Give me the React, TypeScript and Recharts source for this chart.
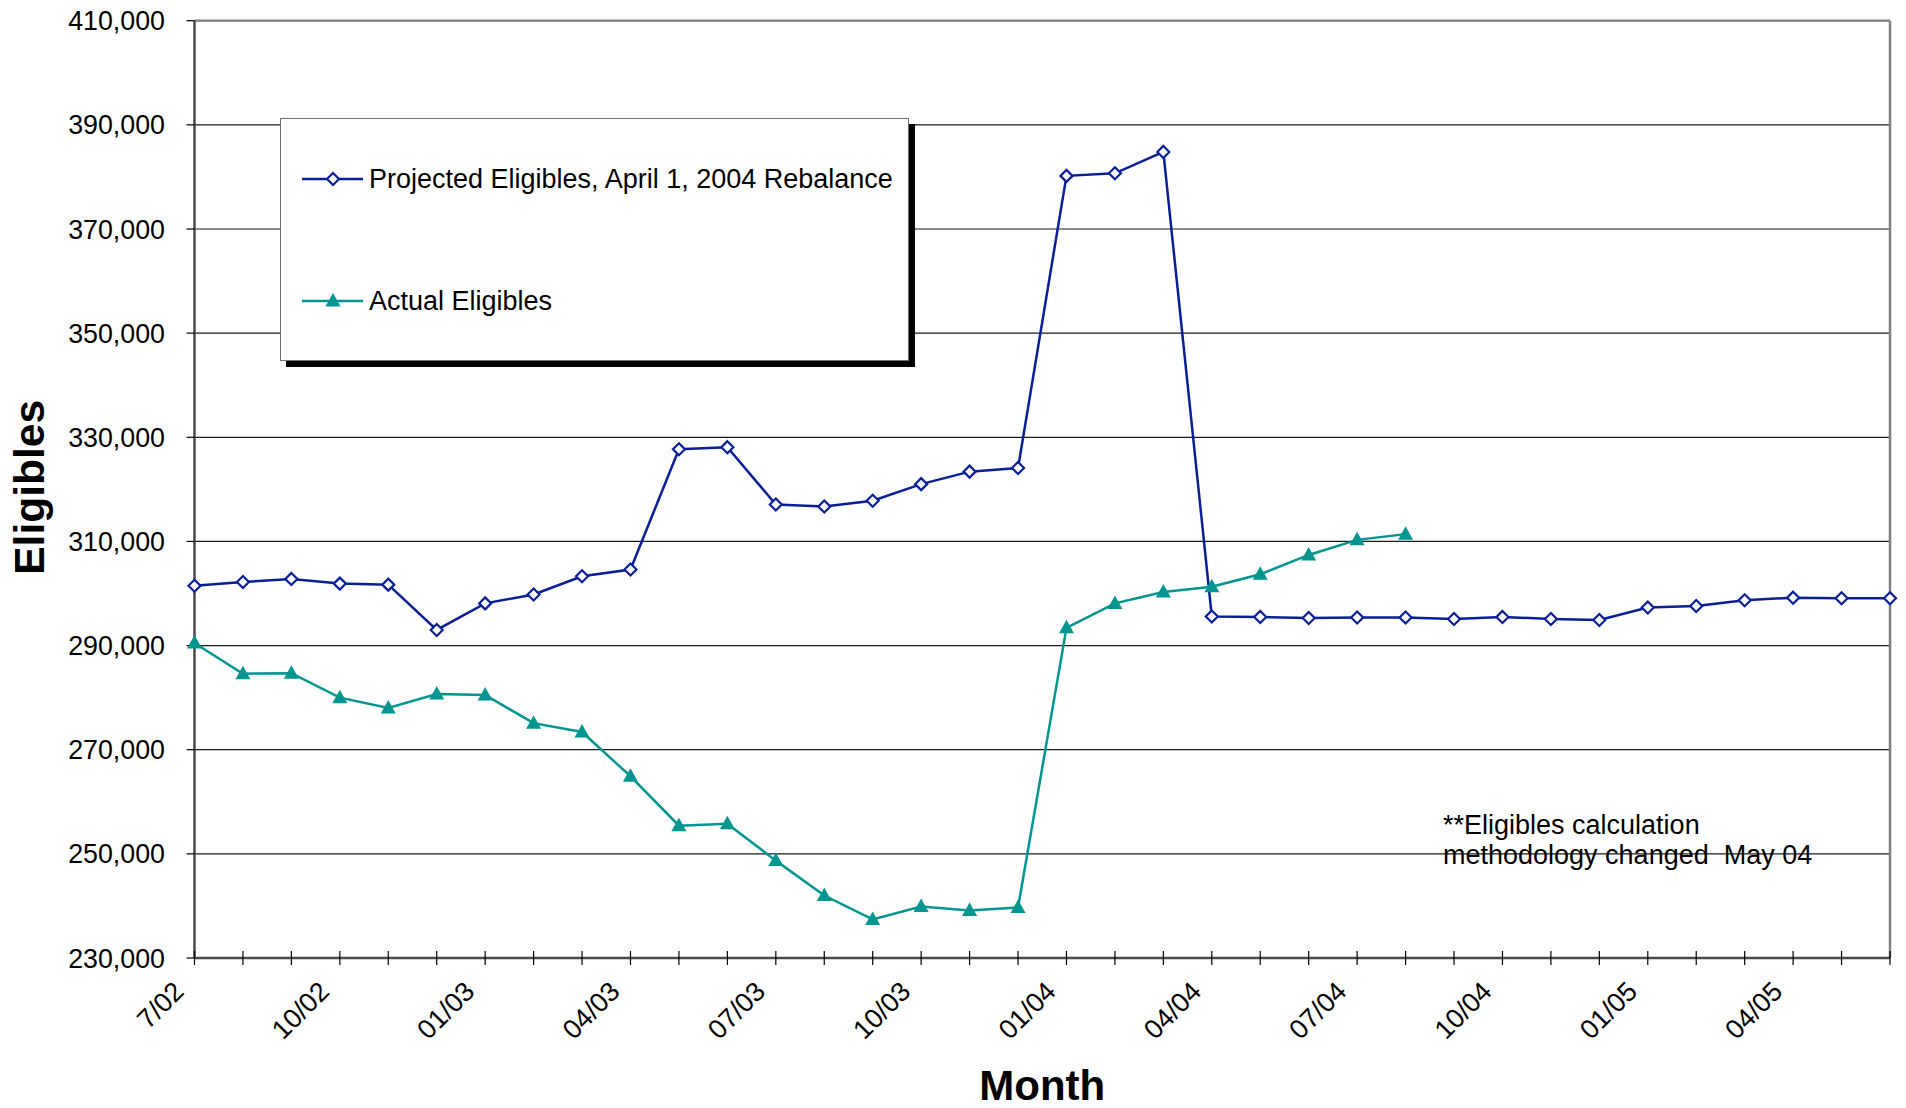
import React from 'react'
import {
  LineChart,
  Line,
  XAxis,
  YAxis,
  CartesianGrid,
  ReferenceLine,
  Legend,
  Label,
} from 'recharts'

const months = [
  '7/02', '8/02', '9/02', '10/02', '11/02', '12/02',
  '01/03', '02/03', '03/03', '04/03', '05/03', '06/03',
  '07/03', '08/03', '09/03', '10/03', '11/03', '12/03',
  '01/04', '02/04', '03/04', '04/04', '05/04', '06/04',
  '07/04', '08/04', '09/04', '10/04', '11/04', '12/04',
  '01/05', '02/05', '03/05', '04/05', '05/05', '06/05',
]

const projected = [
  301500, 302200, 302800, 301900, 301700, 293000,
  298100, 299800, 303300, 304600, 327700, 328100,
  317100, 316700, 317800, 321000, 323400, 324100,
  380200, 380700, 384800, 295600, 295500, 295300,
  295400, 295400, 295100, 295500, 295100, 294900,
  297300, 297600, 298700, 299200, 299100, 299100,
]

const actual = [
  290500, 284600, 284700, 280000, 278000, 280700,
  280500, 275100, 273400, 264900, 255400, 255800,
  248700, 242000, 237400, 239900, 239100, 239700,
  293400, 298100, 300300, 301300, 303700, 307400,
  310300, 311400, null, null, null, null,
  null, null, null, null, null, null,
]

const yTicks = [230000, 250000, 270000, 290000, 310000, 330000, 350000, 370000, 390000, 410000]

const seriesOrder = ['projected', 'actual']

const NAVY = '#0A1E96'
const TEAL = '#009590'
const FONT = '"Liberation Sans", Arial, Helvetica, sans-serif'

const data = months.map((m, i) => ({ month: m, projected: projected[i], actual: actual[i] }))

function Diamond({ cx, cy }: { cx?: number; cy?: number }) {
  if (cx == null || cy == null) return <g />
  const r = 6
  return (
    <polygon
      points={`${cx},${cy - r} ${cx + r},${cy} ${cx},${cy + r} ${cx - r},${cy}`}
      fill="#fff"
      stroke={NAVY}
      strokeWidth={2.2}
    />
  )
}

function Triangle({ cx, cy }: { cx?: number; cy?: number }) {
  if (cx == null || cy == null) return <g />
  return (
    <polygon
      points={`${cx},${cy - 8} ${cx + 7.5},${cy + 5.5} ${cx - 7.5},${cy + 5.5}`}
      fill={TEAL}
      stroke="none"
    />
  )
}

function MonthTick(props: any) {
  const { x, y, index, payload } = props
  return (
    <g>
      <line x1={x} x2={x} y1={y - 7} y2={y + 7} stroke="#000" strokeWidth={1.2} />
      {index % 3 === 0 && (
        <text
          transform={`translate(${x - 9},${y + 35}) rotate(-45)`}
          textAnchor="end"
          fontSize={27}
          fontFamily={FONT}
          fill="#000"
        >
          {payload.value}
        </text>
      )}
    </g>
  )
}

const legendRows = [60, 182]

function LegendBox({ payload }: { payload?: any[] }) {
  const items = [...(payload || [])].sort(
    (a, b) => seriesOrder.indexOf(a.dataKey) - seriesOrder.indexOf(b.dataKey),
  )
  return (
    <div
      style={{
        width: 629,
        height: 243,
        boxSizing: 'border-box',
        border: '1px solid #707070',
        background: '#fff',
        boxShadow: '6px 6px 0 #000',
        position: 'relative',
        fontFamily: FONT,
        fontSize: 27,
        color: '#000',
      }}
    >
      {items.map((p, i) => (
        <div
          key={String(p.dataKey)}
          style={{
            position: 'absolute',
            left: 20,
            top: legendRows[i] - 20,
            height: 40,
            display: 'flex',
            alignItems: 'center',
            whiteSpace: 'nowrap',
          }}
        >
          <svg width={64} height={40}>
            <line x1={1} x2={62} y1={20} y2={20} stroke={p.color} strokeWidth={2.5} />
            {p.dataKey === 'projected' ? <Diamond cx={32} cy={20} /> : <Triangle cx={32} cy={20} />}
          </svg>
          <span style={{ marginLeft: 4 }}>{p.value}</span>
        </div>
      ))}
    </div>
  )
}

export default function App() {
  return (
    <div style={{ position: 'relative', width: 1906, height: 1108 }}>
      <style>{'body{margin:0;overflow:hidden}'}</style>
      <LineChart
        width={1906}
        height={1108}
        data={data}
        margin={{ top: 20.7, right: 16, left: 0, bottom: 0 }}
      >
        <CartesianGrid vertical={false} stroke="#1a1a1a" strokeWidth={1.2} />
        <XAxis
          dataKey="month"
          interval={0}
          height={150}
          tickSize={0}
          tickMargin={0}
          tickLine={false}
          tick={<MonthTick />}
          axisLine={{ stroke: '#4a4a4a', strokeWidth: 2.5 }}
        >
          <Label
            content={({ viewBox }: any) => (
              <text
                x={viewBox.x + viewBox.width / 2}
                y={viewBox.y + 142}
                textAnchor="middle"
                fontSize={42}
                fontWeight="bold"
                fontFamily={FONT}
                fill="#000"
              >
                Month
              </text>
            )}
          />
        </XAxis>
        <YAxis
          width={194.5}
          domain={[230000, 410000]}
          ticks={yTicks}
          interval={0}
          tickSize={8}
          tickMargin={21.5}
          tickFormatter={(v: number) => v.toLocaleString('en-US')}
          tick={{ fontSize: 26.8, fill: '#000', fontFamily: FONT }}
          tickLine={{ stroke: '#000', strokeWidth: 1.2 }}
          axisLine={{ stroke: '#4a4a4a', strokeWidth: 2.5 }}
        >
          <Label
            content={({ viewBox }: any) => (
              <text
                transform={`translate(44,${viewBox.y + viewBox.height / 2 - 2}) rotate(-90)`}
                textAnchor="middle"
                fontSize={42.5}
                fontWeight="bold"
                fontFamily={FONT}
                fill="#000"
              >
                Eligibles
              </text>
            )}
          />
        </YAxis>
        <ReferenceLine y={410000} stroke="#808080" strokeWidth={2.2} />
        <ReferenceLine x={months[months.length - 1]} stroke="#808080" strokeWidth={2.5} />
        <Legend
          layout="vertical"
          align="center"
          verticalAlign="middle"
          content={<LegendBox />}
          wrapperStyle={{ left: 280, top: 118, width: 629, height: 243 }}
        />
        <Line
          dataKey="projected"
          name="Projected Eligibles, April 1, 2004 Rebalance"
          stroke={NAVY}
          strokeWidth={2.5}
          dot={<Diamond />}
          activeDot={false}
          isAnimationActive={false}
        />
        <Line
          dataKey="actual"
          name="Actual Eligibles"
          stroke={TEAL}
          strokeWidth={2.5}
          dot={<Triangle />}
          activeDot={false}
          connectNulls={false}
          isAnimationActive={false}
        />
      </LineChart>
      <div
        style={{
          position: 'absolute',
          left: 1443,
          top: 810,
          fontFamily: FONT,
          fontSize: 27,
          lineHeight: '30px',
          color: '#000',
          whiteSpace: 'pre',
        }}
      >
        {'**Eligibles calculation\nmethodology changed  May 04'}
      </div>
    </div>
  )
}
